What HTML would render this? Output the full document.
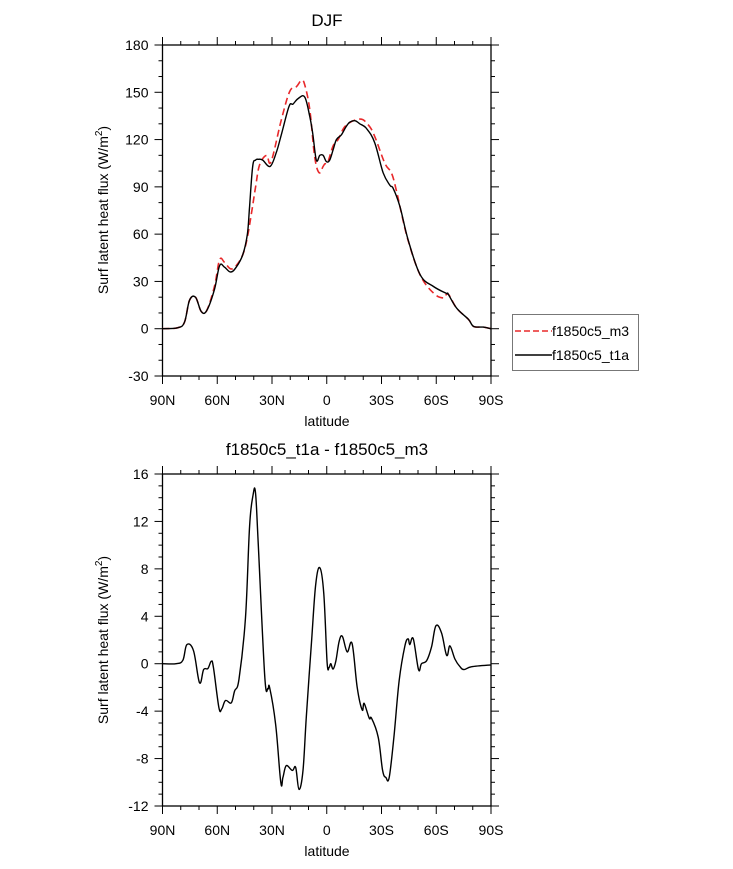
<!DOCTYPE html>
<html><head><meta charset="utf-8"><style>
body{margin:0;background:#fff;}
svg{display:block;font-family:"Liberation Sans",sans-serif;}
</style></head><body>
<svg id="c" width="733" height="869"></svg>
<script>
const latTicks=[90,60,30,0,-30,-60,-90];
const latLabels=["90N","60N","30N","0","30S","60S","90S"];
const topYTicks=[-30,0,30,60,90,120,150,180];
const botYTicks=[-12,-8,-4,0,4,8,12,16];
const t1aLat=[90,81.8,78,75.2,71.9,68.8,65.8,61.5,58.7,56,52.7,49.6,46,43.5,42.3,40.6,39,37.4,35.1,31,27.6,24.9,20.7,18.5,15.7,12.1,9.3,7.7,5.7,3.8,2,0.2,-1.6,-3.5,-5.3,-8,-10.5,-12.6,-15.4,-18.1,-21.8,-26.3,-30.9,-34.6,-36.4,-40.1,-44.6,-51.2,-58.5,-65.9,-66.5,-71.2,-77.6,-80.4,-85.8,-90];
const t1aVal=[0,0.6,4,18,20,11,11.5,25,40,39,36,39,47,60,77.6,103,107,107.5,107,103,112,123,141,142.5,146,147,134.6,124,107,110,110,106,107,113.5,120,123,128,131,132,130,127,118,99,91,89,77.6,56.4,34.2,26.8,22.2,22,13,6,1.5,1,0];
const m3Lat=[90,81.8,78,75.2,71.9,68.8,65.8,61.5,58.7,56,52.7,49.6,46,43.5,41,39,36.8,33,30.5,24.9,20.3,16.6,13.9,12.1,9.3,6.6,4.2,2,1,-0.6,-3.5,-6.2,-10.5,-18.1,-22.7,-26.3,-31.8,-35.5,-38.3,-40.6,-44.6,-51.2,-58.5,-63.9,-66.5,-71.2,-77.6,-80.4,-85.8,-90];
const m3Val=[0,0.6,4,18,20,11,11.5,27,43.7,42,38,40,47,58,75,90,104,110,106,132.5,150.5,153.6,157.5,154.8,138.9,109,99,103,104.6,105.7,116,120,129,133,129.4,122,105,98.7,87,75,56,34,22.6,19.5,22,13,6,1.5,1,0];
const difLat=[90,82.5,78.8,76.7,73,69.7,67.5,65.1,63.3,62.1,59.1,57.5,55.5,52.3,50.5,48.1,44.5,42.3,40.4,39.1,37.7,34,32.2,31.3,28,25.2,24,22.2,18.9,17,15.2,13,11.2,8.4,6.1,3.8,1.6,-0.2,-1.3,-2.2,-3.5,-5,-6.8,-8.6,-11.2,-13.9,-16.7,-19.4,-20.5,-23.3,-24.6,-28.2,-30.6,-32.4,-34.2,-36.8,-39.7,-42.8,-44.6,-45.5,-47.4,-50.3,-51.9,-54.7,-57.4,-59.8,-62.9,-65.7,-67.5,-70.2,-73,-75.2,-79.4,-90];
const difVal=[0,0,0.3,1.6,1.1,-1.6,-0.5,-0.4,0.2,-0.3,-3.7,-3.8,-3.1,-3.3,-2.3,-1.3,3.9,11.6,14.2,14.5,10.7,-1,-2.1,-2,-5.1,-10,-9.6,-8.6,-9,-8.75,-10.6,-9,-4.5,1.7,6.6,8.1,5.9,0.1,-0.3,0,-0.45,0.25,1.9,2.3,1,1.7,-2,-3.9,-3.35,-4.6,-4.6,-6.2,-9,-9.6,-9.6,-6.2,-1.4,1.5,2.1,1.6,2.1,-0.5,0,0.25,1.4,3.2,2.6,0.7,1.5,0.4,-0.25,-0.5,-0.25,-0.1];

const NS="http://www.w3.org/2000/svg";
const svg=document.getElementById('c');
function mk(tag,at,parent){const e=document.createElementNS(NS,tag);for(const k in at)e.setAttribute(k,at[k]);(parent||svg).appendChild(e);return e;}
const X0=162.5,X1=491;
function xs(lat){return X0+(90-lat)*(X1-X0)/180;}

function panel(name,top,bot,ymin,ymax,yticks,yminor,title,ytitleY){
  const g=mk('g',{});
  
  
  const ys=v=>bot-(v-ymin)*(bot-top)/(ymax-ymin);
  const t=mk('text',{x:327,y:top-19,'text-anchor':'middle','font-size':17},g);t.textContent=title;
  
  const fr=mk('rect',{x:X0,y:top,width:X1-X0,height:bot-top,fill:'none',stroke:'#000','stroke-width':1.3},g);
  
  for(let lat=90;lat>=-90;lat-=10){const x=xs(lat);const maj=lat%30===0;const L=maj?8:4;
    mk('line',{x1:x,x2:x,y1:bot,y2:bot+L,stroke:'#000','stroke-width':1},g);
    mk('line',{x1:x,x2:x,y1:top,y2:top-L,stroke:'#000','stroke-width':1},g);}
  latTicks.forEach((lat,i)=>{const tl=mk('text',{x:xs(lat),y:bot+29,'text-anchor':'middle','font-size':14},g);tl.textContent=latLabels[i];
    });
  const xt=mk('text',{x:327,y:bot+50,'text-anchor':'middle','font-size':14},g);xt.textContent='latitude';
  
  for(let v=ymin;v<=ymax+1e-9;v+=yminor){const y=ys(v);const maj=yticks.some(t=>Math.abs(t-v)<1e-6);const L=maj?8:4;
    mk('line',{x1:X0,x2:X0-L,y1:y,y2:y,stroke:'#000','stroke-width':1},g);
    mk('line',{x1:X1,x2:X1+L,y1:y,y2:y,stroke:'#000','stroke-width':1},g);}
  yticks.forEach(v=>{const tl=mk('text',{x:X0-14,y:ys(v)+5,'text-anchor':'end','font-size':14},g);tl.textContent=v;
    });
  const yt=mk('text',{x:0,y:0,'text-anchor':'middle','font-size':14,transform:`translate(108,${ytitleY}) rotate(-90)`},g);
  yt.innerHTML='Surf latent heat flux (W/m<tspan dy="-6" font-size="10">2</tspan><tspan dy="6">)</tspan>';
  
  return {g,ys};
}
function line(p,lats,vals,attrs,name){
  const P=lats.map((l,i)=>[xs(l),p.ys(vals[i])]);
  let d='M'+P[0][0].toFixed(1)+','+P[0][1].toFixed(1);
  const k=0.18;
  for(let i=0;i<P.length-1;i++){
    const p0=P[Math.max(0,i-1)],p1=P[i],p2=P[i+1],p3=P[Math.min(P.length-1,i+2)];
    const c1=[p1[0]+(p2[0]-p0[0])*k,p1[1]+(p2[1]-p0[1])*k];
    const c2=[p2[0]-(p3[0]-p1[0])*k,p2[1]-(p3[1]-p1[1])*k];
    d+='C'+c1[0].toFixed(1)+','+c1[1].toFixed(1)+' '+c2[0].toFixed(1)+','+c2[1].toFixed(1)+' '+p2[0].toFixed(1)+','+p2[1].toFixed(1);
  }
  const e=mk('path',Object.assign({d,fill:'none','stroke-linejoin':'round'},attrs),p.g);
  
}
const p1=panel('top-panel',45,376,-30,180,topYTicks,10,'DJF',210);
line(p1,m3Lat,m3Val,{stroke:'#e8282a','stroke-width':1.6,'stroke-dasharray':'7,4'},'series-m3');
line(p1,t1aLat,t1aVal,{stroke:'#000','stroke-width':1.4},'series-t1a');
const p2=panel('bottom-panel',474,806,-12,16,botYTicks,1,'f1850c5_t1a - f1850c5_m3',640);
line(p2,difLat,difVal,{stroke:'#000','stroke-width':1.4},'series-difference');

const lg=mk('g',{});

mk('rect',{x:512.5,y:314.5,width:126,height:56,fill:'#fff',stroke:'#777','stroke-width':1},lg);
mk('line',{x1:515,x2:552,y1:331,y2:331,stroke:'#e8282a','stroke-width':1.6,'stroke-dasharray':'6,3'},lg);
mk('line',{x1:515,x2:552,y1:355,y2:355,stroke:'#000','stroke-width':1.4},lg);
const l1=mk('text',{x:552,y:336,'font-size':14},lg);l1.textContent='f1850c5_m3';

const l2=mk('text',{x:552,y:360,'font-size':14},lg);l2.textContent='f1850c5_t1a';

</script>
</body></html>
